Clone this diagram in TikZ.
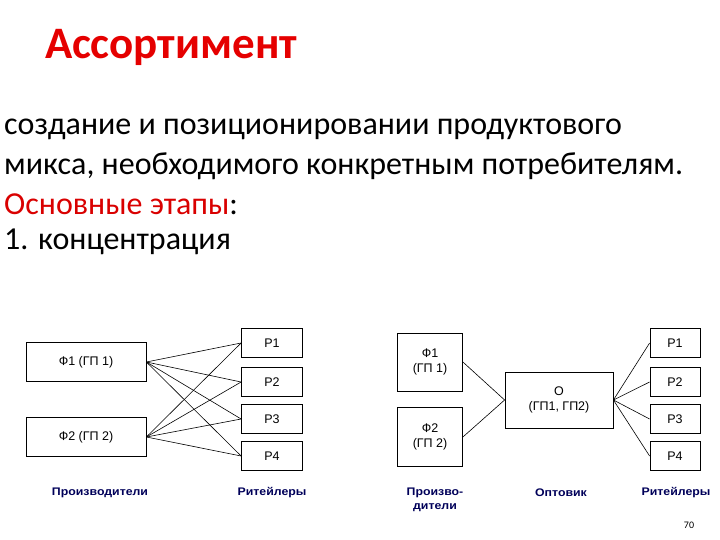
\documentclass[tikz,border=0pt]{standalone}
\usepackage{fontspec}
\setmainfont{Carlito}
\newfontfamily\arialf{Liberation Sans}
\newfontfamily\arialw{Liberation Sans}[FakeStretch=1.12]
\begin{document}
\begin{tikzpicture}[x=1pt,y=-1pt,
 bx/.style={draw,line width=0.8pt,inner sep=0pt,font=\arialf\fontsize{12.5}{15}\selectfont,align=center},
 lbl/.style={font=\arialw\bfseries\fontsize{11}{13.5}\selectfont,text=blue!35!black,align=center},
 ln/.style={line width=0.6pt},
 body/.style={anchor=west,font=\fontsize{32}{36}\selectfont,inner sep=0pt}]
\useasboundingbox (0,0) rectangle (720,540);
\node[anchor=west,font=\bfseries\fontsize{45}{48}\selectfont,inner sep=0pt,text=red!90!black] (title) at (45,47) {Ассортимент};
\node[body] (l1) at (4,129) {создание и позиционировании продуктового};
\node[body] (l2) at (4,166) {микса, необходимого конкретным потребителям.};
\node[body] (l3) at (4,204) {\textcolor{red!85!black}{Основные этапы}:};
\node[body] (l4) at (4,242) {1. концентрация};
% left diagram
\node[bx,minimum width=120,minimum height=39] (f1) at (86,362) {Ф1 (ГП 1)};
\node[bx,minimum width=120,minimum height=39] (f2) at (86,437) {Ф2 (ГП 2)};
\foreach \i/\y in {1/343,2/382,3/419,4/456}
 \node[bx,minimum width=61,minimum height=29] (p\i) at (272,\y) {Р\i};
\foreach \i in {1,...,4}{\draw[ln] (f1.east) -- (p\i.west); \draw[ln] (f2.east) -- (p\i.west);}
\node[lbl] (lp) at (100,493) {Производители};
\node[lbl] (lr) at (272,493) {Ритейлеры};
% right diagram
\node[bx,minimum width=65,minimum height=58] (g1) at (430,362) {Ф1\\(ГП 1)};
\node[bx,minimum width=65,minimum height=59] (g2) at (430,437) {Ф2\\(ГП 2)};
\node[bx,minimum width=108,minimum height=56] (o) at (559,400) {О\\(ГП1, ГП2)};
\foreach \i/\y in {1/343,2/382,3/419,4/456}
 \node[bx,minimum width=50,minimum height=29] (q\i) at (675,\y) {Р\i};
\draw[ln] (g1.east) -- (o.west);
\draw[ln] (g2.east) -- (o.west);
\foreach \i in {1,...,4}\draw[ln] (o.east) -- (q\i.west);
\node[lbl] (lp2) at (435,500) {Произво-\\дители};
\node[lbl] (lo) at (561,493) {Оптовик};
\node[lbl] (lr2) at (676,493) {Ритейлеры};
\node[font=\fontsize{10}{11}\selectfont] (num) at (689,525) {70};
\end{tikzpicture}
\end{document}
